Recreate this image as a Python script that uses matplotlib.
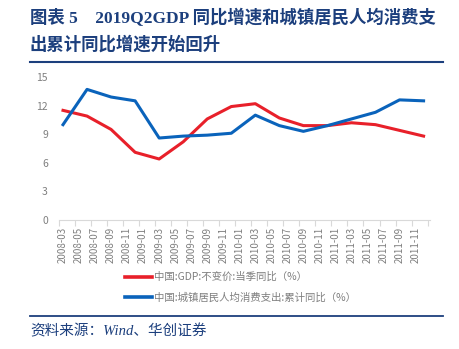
import matplotlib
matplotlib.use("Agg")
import matplotlib.pyplot as plt
from matplotlib.lines import Line2D

plt.rcParams['font.family'] = ['Noto Sans CJK SC', 'DejaVu Sans']

# ---- data ----
quarters = ["2008-03", "2008-06", "2008-09", "2008-12",
            "2009-03", "2009-06", "2009-09", "2009-12",
            "2010-03", "2010-06", "2010-09", "2010-12",
            "2011-03", "2011-06", "2011-09", "2011-12"]
gdp = [11.5, 10.9, 9.5, 7.1, 6.4, 8.2, 10.6, 11.9,
       12.2, 10.7, 9.9, 9.9, 10.2, 10.0, 9.4, 8.8]
consumption = [10.0, 13.7, 12.9, 12.5, 8.6, 8.8, 8.9, 9.1,
               11.0, 9.9, 9.3, 9.9, 10.6, 11.3, 12.6, 12.5]
tick_labels = ["2008-03", "2008-05", "2008-07", "2008-09", "2008-11",
               "2009-01", "2009-03", "2009-05", "2009-07", "2009-09", "2009-11",
               "2010-01", "2010-03", "2010-05", "2010-07", "2010-09", "2010-11",
               "2011-01", "2011-03", "2011-05", "2011-07", "2011-09", "2011-11"]
yticks = [0, 3, 6, 9, 12, 15]
label_gdp = "中国:GDP:不变价:当季同比（%）"
label_cons = "中国:城镇居民人均消费支出:累计同比（%）"
title1 = "图表 5    2019Q2GDP 同比增速和城镇居民人均消费支"
title2 = "出累计同比增速开始回升"
source = "资料来源：Wind、华创证券"


def month_index(s):
    y, m = s.split("-")
    return (int(y) - 2008) * 12 + int(m) - 3


xq = [month_index(q) for q in quarters]
xt = [month_index(t) for t in tick_labels]

W, H = 460, 349
fig = plt.figure(figsize=(W / 100, H / 100), dpi=100)
ax = fig.add_axes([59 / W, 1 - 220 / H, (430 - 59) / W, (220 - 77) / H])

red = "#e8202a"
blue = "#0a63bb"
ax.plot(xq, gdp, color=red, lw=2.2, label=label_gdp, solid_joinstyle='round')
ax.plot(xq, consumption, color=blue, lw=2.2, label=label_cons, solid_joinstyle='round')

ax.set_xlim(-0.5, 45.8)
ax.set_ylim(0, 15)
ax.set_yticks(yticks)
ax.set_yticklabels([str(v) for v in yticks], color="#7f7f7f", fontsize=7.5)
ax.set_xticks(xt)
ax.set_xticklabels(tick_labels, rotation=90, color="#7f7f7f", fontsize=7)
ax.set_xticks([x - 0.5 for x in xt] + [45.5], minor=True)
ax.tick_params(axis='x', which='major', length=0, pad=5)
ax.tick_params(axis='x', which='minor', length=4, color="#d9d9d9", width=0.8)
ax.tick_params(axis='y', length=0, pad=8)
for sp in ["top", "right", "left"]:
    ax.spines[sp].set_visible(False)
ax.spines["bottom"].set_color("#d9d9d9")
ax.spines["bottom"].set_linewidth(0.8)

leg = fig.legend(loc="upper left", bbox_to_anchor=(125 / W, 1 - 272 / H),
                 frameon=False, fontsize=7.5, handlelength=2.6, handletextpad=0.2,
                 labelspacing=0.95, borderaxespad=0, borderpad=0)
for t in leg.get_texts():
    t.set_color("#7f7f7f")
for l in leg.get_lines():
    l.set_linewidth(2.6)

navy = "#1c3f7d"
fig.add_artist(Line2D([30 / W, 443 / W], [1 - 62 / H, 1 - 62 / H], color=navy, lw=1.5))
fig.add_artist(Line2D([30 / W, 443 / W], [1 - 316 / H, 1 - 316 / H], color=navy, lw=1.3))

tfam = ['Liberation Serif', 'Noto Sans CJK SC']
fig.text(30 / W, 1 - 18 / H, title1, fontsize=12.5, fontweight='bold', color=navy,
         va='center', ha='left', family=tfam)
fig.text(30 / W, 1 - 45 / H, title2, fontsize=12.5, fontweight='bold', color=navy,
         va='center', ha='left', family=tfam)
fig.text(30 / W, 1 - 331 / H, source, fontsize=10.5, style='italic', color=navy,
         va='center', ha='left', family=tfam)

fig.savefig("out.png", dpi=100)
